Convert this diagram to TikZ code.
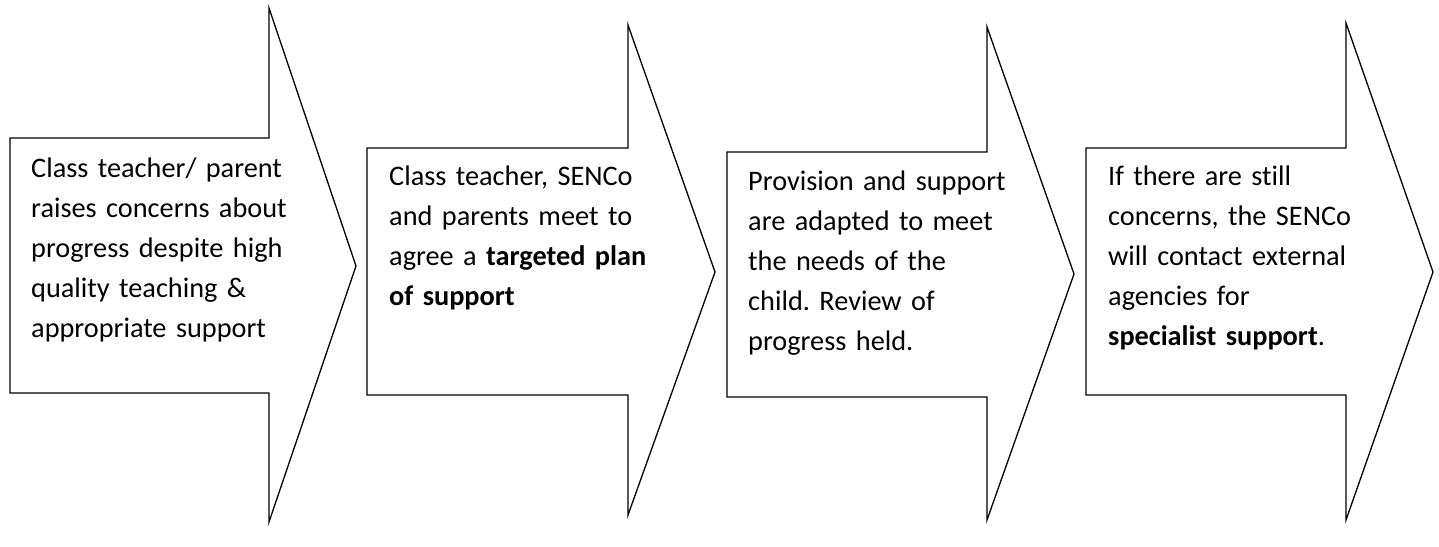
\documentclass[tikz,border=0pt]{standalone}
\usepackage{fontspec}
\setmainfont{Carlito}[Ligatures=NoCommon]
\frenchspacing
\tikzset{
  stagearrow/.style={draw=black, line width=1.3pt, line join=miter, fill=white},
  stagetext/.style={anchor=base west, inner sep=0pt, text width=#1, align=left,
    font=\fontsize{28.3}{40}\selectfont}
}
% #1 left, #2 body top, #3 body bottom, #4 shaft right, #5 head top, #6 head bottom, #7 point x, #8 point y
\newcommand{\stageshape}[8]{%
  \draw[stagearrow] (#1,#2) -- (#4,#2) -- (#4,#5) -- (#7,#8) -- (#4,#6) -- (#4,#3) -- (#1,#3) -- cycle;}
\begin{document}
\begin{tikzpicture}[x=1pt,y=-1pt]
\useasboundingbox (0,0) rectangle (1439,546);
\fill[white] (0,0) rectangle (1439,546);
\stageshape{10}{138}{393}{269}{8}{522}{356}{266}
\stageshape{367}{148}{395}{628}{25}{515}{715}{272}
\stageshape{727}{152}{397}{987}{27}{520}{1074}{274}
\stageshape{1086}{148}{395}{1346}{23}{520}{1433}{272}
\node[stagetext=320pt] (s1) at (31,177) {Class teacher/ parent\\raises concerns about\\progress despite high\\quality teaching \&\\appropriate support};
\node[stagetext=320pt] (s2) at (389,185) {Class teacher, SENCo\\and parents meet to\\agree a \textbf{targeted plan}\\\textbf{of support}};
\node[stagetext=320pt] (s3) at (748,190) {Provision and support\\are adapted to meet\\the needs of the\\child. Review of\\progress held.};
\node[stagetext=320pt] (s4) at (1108,185) {If there are still\\concerns, the SENCo\\will contact external\\agencies for\\\textbf{specialist support}.};
\end{tikzpicture}
\end{document}
